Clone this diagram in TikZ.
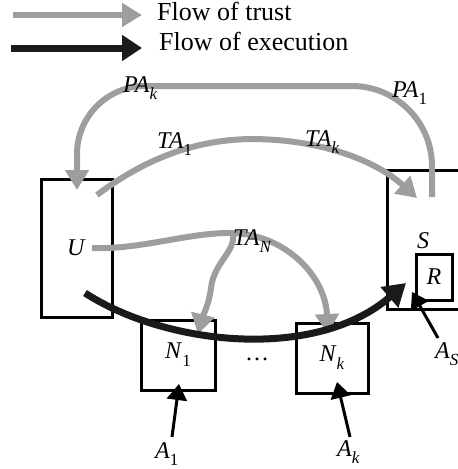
\documentclass[tikz,border=0pt]{standalone}
\usepackage{fontspec}
\setmainfont{Liberation Serif}
\usetikzlibrary{arrows.meta}
\definecolor{trust}{RGB}{158,158,158}
\definecolor{execc}{RGB}{26,26,26}
\newcommand{\subx}[1]{\raisebox{-0.33em}{\fontsize{17}{17}\selectfont #1}}
\begin{document}
\begin{tikzpicture}[x=1pt,y=-1pt,
  txt/.style={font=\fontsize{24}{28}\selectfont, inner sep=0pt},
  legtxt/.style={font=\fontsize{26}{30}\selectfont, inner sep=0pt},
  box/.style={draw=black, line width=3pt, inner sep=0pt, font=\fontsize{24}{28}\selectfont},
  trustline/.style={draw=trust, line width=6pt, -{Triangle[length=20pt,width=23pt]}},
  execline/.style={draw=execc, line width=7pt, -{Triangle[length=22pt,width=26pt]}},
  aline/.style={draw=black, line width=3pt, -{Triangle[length=16pt,width=20pt]}},
]
\useasboundingbox (0,0) rectangle (458,469);
\clip (0,0) rectangle (458,469);
% legend
\coordinate (lg1a) at (13,15);
\coordinate (lg1b) at (142,15);
\draw[trustline, line width=5.5pt] (lg1a) -- (lg1b);
\node[legtxt, anchor=base west] (lt) at (157,20) {Flow of trust};
\coordinate (lg2a) at (11,48);
\coordinate (lg2b) at (142,48);
\draw[execline, -{Triangle[length=20pt,width=25pt]}] (lg2a) -- (lg2b);
\node[legtxt, anchor=base west] (le) at (159,50) {Flow of execution};
% boxes
\node[box, minimum width=71pt, minimum height=138pt] (U) at (76.5,248) {\textit{U}};
\node[box, minimum width=83pt, minimum height=138.5pt] (S) at (428.5,239.75) {};
\node[box, minimum width=36pt, minimum height=46pt] (R) at (434,277) {\textit{R}};
\node[box, minimum width=74pt, minimum height=70pt] (N1) at (178,355) {\textit{N}\subx{1}};
\node[box, minimum width=72pt, minimum height=70pt] (Nk) at (332,358) {\textit{N}\subx{\textit{k}}};
\node[txt, anchor=base west] (lS) at (417,248) {\textit{S}};
\node[txt, anchor=base] (dots) at (257,360) {…};
% coordinates
\coordinate (pa0) at (432,197);
\coordinate (pa1) at (77,190);
\coordinate (ta0) at (97,195);
\coordinate (ta1) at (417,198);
\coordinate (tn0) at (92,248);
\coordinate (tnb) at (233,233);
\coordinate (tn1) at (198,334);
\coordinate (tnk) at (328,334);
\coordinate (ex0) at (85,293);
\coordinate (ex1) at (406,283);
\coordinate (a1t) at (172,437);
\coordinate (a1h) at (179,384);
\coordinate (akt) at (350,437);
\coordinate (akh) at (337,382);
\coordinate (ast) at (438,338);
\coordinate (ash) at (412,292);
% trust flows
\draw[trustline] (pa0) -- (432,166) .. controls (432,122) and (396,86) .. (352,86)
  -- (145,86) .. controls (107.5,86) and (77,116.5) .. (77,154) -- (pa1);
\draw[trustline] (ta0) .. controls (150,155) and (200,140) .. (250,139)
  .. controls (320,139) and (375,160) .. (ta1);
\draw[draw=trust, line width=6pt] (tn0) .. controls (140,250) and (190,232) .. (tnb);
\draw[trustline] (tnb) .. controls (236,252) and (214,262) .. (211,288)
  .. controls (209,305) and (202,318) .. (tn1);
\draw[trustline] (tnb) .. controls (285,235) and (325,275) .. (tnk);
% execution
\draw[execline] (ex0) .. controls (165,345) and (315,362) .. (ex1);
% attackers
\draw[aline] (a1t) -- (a1h);
\draw[aline] (akt) -- (akh);
\draw[aline] (ast) -- (ash);
% labels (on top of the lines)
\node[txt, anchor=base west] (lPAk) at (123,92) {\textit{PA}\subx{\textit{k}}};
\node[txt, anchor=base west] (lPA1) at (392,97) {\textit{PA}\subx{1}};
\node[txt, anchor=base west] (lTA1) at (157,148) {\textit{TA}\subx{1}};
\node[txt, anchor=base west] (lTAk) at (305,146) {\textit{TA}\subx{\textit{k}}};
\node[txt, anchor=base west] (lTAN) at (233,245) {\textit{TA}\subx{\textit{N}}};
\node[txt, anchor=base west] (lA1) at (155,458) {\textit{A}\subx{1}};
\node[txt, anchor=base west] (lAk) at (337,456) {\textit{A}\subx{\textit{k}}};
\node[txt, anchor=base west] (lAS) at (435,358) {\textit{A}\subx{\textit{S}}};
\end{tikzpicture}
\end{document}
